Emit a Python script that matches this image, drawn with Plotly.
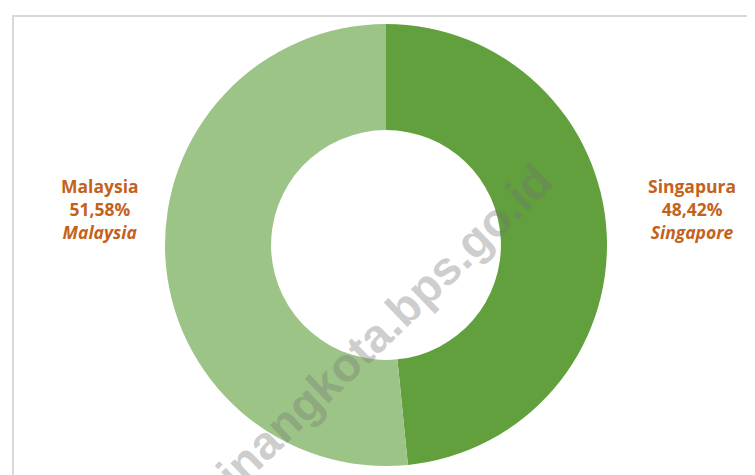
import plotly.graph_objects as go

# share of visitors, percent
countries = ["Singapura", "Malaysia"]
countries_en = ["Singapore", "Malaysia"]
shares = [48.42, 51.58]
slice_colors = ["#62a03e", "#9dc487"]

label_color = "#c4621c"
label_font = "'Open Sans', 'DejaVu Sans', sans-serif"

fig = go.Figure()

fig.add_trace(
    go.Pie(
        labels=countries,
        values=shares,
        hole=0.52,
        sort=False,
        direction="clockwise",
        rotation=0,
        marker=dict(colors=slice_colors, line=dict(width=0)),
        textinfo="none",
        hoverinfo="label+percent",
        showlegend=False,
        domain=dict(x=[157 / 755, 599 / 755], y=[1 - 458 / 475, 1 - 16 / 475]),
    )
)


def fmt_pct(v):
    return f"{v:.2f}%".replace(".", ",")


# label positions (paper px), one per country
label_pos = {"Singapura": (684, 201), "Malaysia": (92, 201)}

for name, name_en, val in zip(countries, countries_en, shares):
    px, py = label_pos[name]
    fig.add_annotation(
        x=px / 755,
        y=1 - py / 475,
        xref="paper",
        yref="paper",
        xanchor="center",
        yanchor="middle",
        showarrow=False,
        align="center",
        text=f"<b>{name}</b><br><b>{fmt_pct(val)}</b><br><b><i>{name_en}</i></b>",
        font=dict(family=label_font, size=17.5, color=label_color),
    )

# watermark
fig.add_annotation(
    x=557 / 755,
    y=1 - 143 / 475,
    xref="paper",
    yref="paper",
    xanchor="right",
    yanchor="top",
    showarrow=False,
    text="<b>tanjungpinangkota.bps.go.id</b>",
    textangle=-44,
    font=dict(family="Arial, 'Liberation Sans', sans-serif", size=47, color="rgba(115,115,115,0.36)"),
)

# chart frame
fig.add_shape(
    type="rect",
    xref="paper",
    yref="paper",
    x0=5 / 755,
    x1=1.02,
    y0=-0.02,
    y1=1 - 8 / 475,
    line=dict(color="#d9d9d9", width=2),
    fillcolor="rgba(0,0,0,0)",
)

fig.update_layout(
    width=755,
    height=475,
    margin=dict(l=0, r=0, t=0, b=0),
    paper_bgcolor="white",
    plot_bgcolor="white",
)

fig.write_html("out.html")
